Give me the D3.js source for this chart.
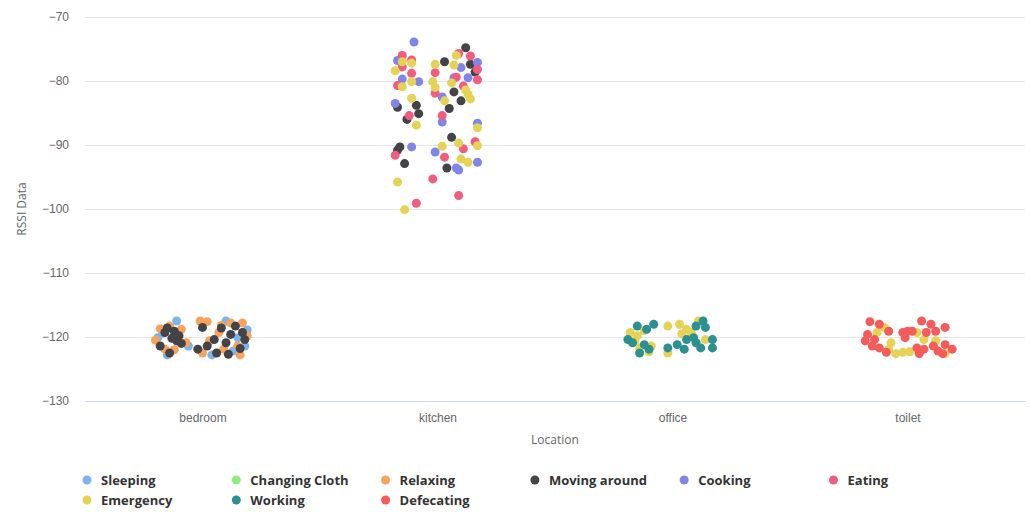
<!DOCTYPE html>
<html>
<head>
<meta charset="utf-8">
<script src="https://cdn.jsdelivr.net/npm/d3@7"></script>
<style>
  body { margin: 0; background: #fff; }
  svg { font-family: "Open Sans", "DejaVu Sans", sans-serif; }
</style>
</head>
<body>
<div id="chart"></div>
<script>
const categories = ["bedroom", "kitchen", "office", "toilet"];
const yTicks = [-130, -120, -110, -100, -90, -80, -70];

// [x (category index + jitter), RSSI]
const sleeping = [[-0.11, -117.5], [-0.19, -120.1], [-0.06, -121.4], [-0.15, -122.8], [0.10, -117.5],
    [0.18, -121.4], [0.04, -122.8], [0.15, -120.1], [-0.17, -119.4], [0.19, -118.9], [0.13, -122.2]];
const changingCloth = [];
const relaxing = [[-0.18, -118.7], [-0.09, -118.8], [-0.07, -120.9], [-0.16, -121.9], [-0.14, -118.3],
    [-0.01, -117.5], [0.02, -117.6], [0.12, -117.8], [0.17, -117.8], [0.07, -119.3], [0.03, -120.6],
    [0.15, -121.4], [0.00, -122.5], [0.16, -122.8], [0.09, -121.9], [-0.20, -120.5], [-0.12, -122.0],
    [0.08, -118.2], [0.19, -119.8]];
const movingAround = [[-0.16, -119.3], [-0.12, -119.1], [-0.10, -119.8], [-0.11, -120.6], [-0.18, -121.4],
    [-0.14, -122.5], [-0.09, -121.0], [0.00, -118.5], [0.14, -118.3], [0.17, -119.3], [0.12, -119.6],
    [0.05, -120.4], [0.10, -120.9], [0.18, -120.4], [-0.02, -121.9], [0.02, -121.4], [0.06, -122.5], [0.11, -122.7],
    [-0.13, -120.2], [-0.15, -118.6], [0.08, -118.6], [0.16, -121.8],
    [0.83, -84.1], [0.91, -83.8], [0.92, -85.1], [0.87, -86.0], [0.84, -90.3], [0.83, -90.8], [0.86, -92.9],
    [1.12, -74.8], [1.03, -77.0], [1.14, -77.4], [1.16, -78.6], [1.07, -81.7], [1.10, -83.1], [1.05, -84.3],
    [1.06, -88.8], [1.04, -93.6]];
const cooking = [[0.90, -73.9], [0.83, -76.8], [0.85, -79.7], [0.92, -80.1], [0.82, -83.5], [0.89, -90.3],
    [1.17, -77.1], [1.10, -77.9], [1.07, -79.5], [1.13, -79.5], [1.02, -82.5], [1.02, -86.4], [1.17, -86.6],
    [0.99, -91.1], [1.17, -92.7], [1.08, -93.6], [1.09, -93.9]];
const eating = [[0.85, -76.0], [0.89, -76.7], [0.85, -77.8], [0.89, -78.8], [0.83, -80.7], [0.88, -85.4],
    [0.82, -91.6], [0.91, -99.1], [1.09, -75.7], [1.14, -76.1], [1.17, -78.2], [0.99, -78.7], [1.08, -79.4],
    [1.17, -79.8], [0.99, -81.9], [1.11, -80.8], [1.02, -85.4], [1.16, -89.5], [1.11, -90.6], [1.03, -91.9],
    [0.98, -95.3], [1.09, -97.9]];
const emergency = [[0.85, -77.0], [0.89, -77.2], [0.82, -78.4], [0.89, -80.1], [0.85, -80.9], [0.89, -82.7],
    [0.91, -86.9], [0.83, -95.8], [0.86, -100.1], [1.08, -76.0], [0.99, -77.4], [1.07, -77.5], [0.98, -80.1],
    [1.06, -80.3], [0.99, -81.0], [1.12, -81.4], [1.13, -82.1], [1.14, -82.8], [1.03, -83.1], [1.17, -87.3],
    [1.09, -89.7], [1.17, -90.1], [1.02, -90.2], [1.10, -92.2], [1.13, -92.7],
    [1.82, -119.3], [1.85, -119.8], [1.91, -121.4], [1.86, -121.7], [1.98, -122.5], [1.98, -118.3],
    [2.03, -118.0], [2.06, -118.8], [2.08, -119.3], [2.11, -117.5], [2.14, -120.4], [1.84, -120.6],
    [1.88, -119.0], [1.90, -122.3], [2.04, -119.5],
    [2.90, -118.5], [2.87, -119.3], [2.93, -120.9], [2.92, -121.9], [2.95, -122.6], [2.98, -122.4],
    [3.01, -122.3], [3.07, -120.4], [3.12, -120.6], [3.16, -122.6], [3.04, -119.3]];
const working = [[1.85, -118.3], [1.89, -118.8], [1.92, -118.0], [1.81, -120.4], [1.83, -120.9], [1.88, -121.2],
    [1.90, -121.9], [1.86, -122.5], [1.98, -121.7], [2.02, -121.2], [2.05, -121.9], [2.06, -120.4],
    [2.09, -120.1], [2.10, -120.9], [2.12, -121.7], [2.10, -118.3], [2.13, -117.5], [2.14, -118.5],
    [2.17, -120.4], [2.17, -121.7]];
const defecating = [[2.84, -117.6], [2.88, -118.0], [2.92, -119.1], [2.83, -119.6], [2.82, -120.6], [2.86, -120.4],
    [2.85, -121.4], [2.88, -121.7], [2.91, -122.4], [2.98, -119.3], [3.00, -119.1], [2.99, -120.1],
    [3.02, -119.1], [3.06, -117.5], [3.10, -118.0], [3.12, -119.1], [3.08, -119.3], [3.16, -118.5],
    [3.04, -121.7], [3.07, -121.9], [3.11, -121.4], [3.13, -122.2], [3.15, -122.6], [3.16, -121.2],
    [3.19, -121.9], [3.05, -122.6]];

const seriesNames = ["Sleeping", "Changing Cloth", "Relaxing", "Moving around", "Cooking", "Eating",
    "Emergency", "Working", "Defecating"];
const seriesData = [sleeping, changingCloth, relaxing, movingAround, cooking, eating, emergency, working, defecating];
const colors = ["#7cb5ec", "#90ed7d", "#f7a35c", "#434348", "#8085e9", "#f15c80", "#e4d354", "#2b908f", "#f45b5b"];

const width = 1030, height = 512;
const margin = { left: 85, right: 5, top: 17, bottom: 111 };

const svg = d3.select("#chart").append("svg").attr("width", width).attr("height", height);

const x = d3.scaleLinear().domain([-0.5, categories.length - 0.5]).range([margin.left, width - margin.right]);
const y = d3.scaleLinear().domain([-130, -70]).range([height - margin.bottom, margin.top]);

// grid + y labels
const yAxis = svg.append("g").attr("transform", "translate(" + margin.left + ",0)")
    .call(d3.axisLeft(y).tickValues(yTicks).tickSize(-(width - margin.left - margin.right)).tickPadding(16));
yAxis.select(".domain").remove();
yAxis.selectAll(".tick line").attr("stroke", "#e6e6e6");
yAxis.selectAll(".tick text").attr("fill", "#666").style("font-size", "12px");

// x axis
const xAxis = svg.append("g").attr("transform", "translate(0," + y(-130) + ")")
    .call(d3.axisBottom(x).tickValues(d3.range(categories.length)).tickFormat(i => categories[i]).tickSize(0).tickPadding(12));
xAxis.select(".domain").attr("stroke", "#ccd6eb");
xAxis.selectAll(".tick text").attr("fill", "#666").style("font-size", "12px");

svg.append("text").attr("transform", "translate(22," + y(-100) + ") rotate(-90)")
    .attr("text-anchor", "middle").attr("dy", "0.35em").attr("fill", "#666").style("font-size", "12px").text("RSSI Data");
svg.append("text").attr("x", x(1.5)).attr("y", 444)
    .attr("text-anchor", "middle").attr("fill", "#666").style("font-size", "12px").text("Location");

// points
seriesData.forEach((data, i) => {
    svg.append("g").selectAll("circle").data(data).join("circle")
        .attr("cx", d => x(d[0]))
        .attr("cy", d => y(d[1]))
        .attr("r", 4.5)
        .attr("fill", colors[i]);
});

// legend
const legend = svg.append("g");
seriesNames.forEach((name, i) => {
    const col = i % 6, row = Math.floor(i / 6);
    const g = legend.append("g").attr("transform", "translate(" + (87 + col * 149.3) + "," + (480 + row * 20) + ")");
    g.append("circle").attr("r", 4.5).attr("fill", colors[i]);
    g.append("text").attr("x", 14).attr("dy", "0.35em").attr("fill", "#333")
        .style("font-size", "13px").style("font-weight", "bold").text(name);
});
</script>
</body>
</html>
